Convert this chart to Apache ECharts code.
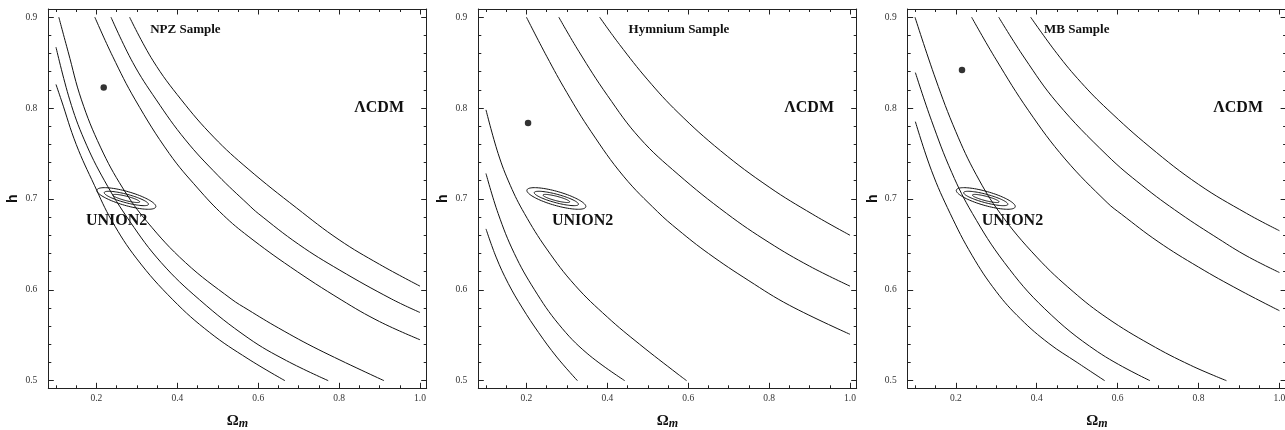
<!DOCTYPE html>
<html><head><meta charset="utf-8">
<script src="https://cdn.jsdelivr.net/npm/echarts@6/dist/echarts.min.js"></script>
<style>html,body{margin:0;padding:0;background:#fff}#c{width:1285px;height:430px}</style>
</head><body><div id="c"></div>
<script>
// ---------- data ----------
const panelTitles = ['NPZ Sample', 'Hymnium Sample', 'MB Sample'];
const xMajorTicks = [0.2, 0.4, 0.6, 0.8, 1.0];
const xMinorTicks = [0.1, 0.15, 0.25, 0.3, 0.35, 0.45, 0.5, 0.55, 0.65, 0.7, 0.75, 0.85, 0.9, 0.95];
const yMajorTicks = [0.5, 0.6, 0.7, 0.8, 0.9];
const yMinorTicks = [0.52, 0.54, 0.56, 0.58, 0.62, 0.64, 0.66, 0.68, 0.72, 0.74, 0.76, 0.78, 0.82, 0.84, 0.86, 0.88];

const npzCurves = [
  [[0.100,0.826],[0.113,0.809],[0.150,0.760],[0.195,0.715],[0.238,0.676],[0.300,0.634],[0.389,0.589],[0.480,0.553],[0.575,0.524],[0.666,0.500]],
  [[0.100,0.867],[0.134,0.809],[0.170,0.765],[0.220,0.720],[0.283,0.675],[0.360,0.630],[0.455,0.589],[0.575,0.547],[0.670,0.522],[0.773,0.500]],
  [[0.107,0.900],[0.130,0.862],[0.163,0.809],[0.210,0.757],[0.265,0.712],[0.325,0.675],[0.420,0.630],[0.533,0.590],[0.575,0.578],[0.650,0.558],[0.750,0.534],[0.911,0.500]],
  [[0.196,0.900],[0.240,0.857],[0.296,0.809],[0.380,0.750],[0.450,0.712],[0.514,0.682],[0.575,0.659],[0.680,0.625],[0.805,0.589],[0.900,0.565],[1.000,0.545]],
  [[0.236,0.900],[0.290,0.850],[0.348,0.809],[0.420,0.765],[0.500,0.726],[0.575,0.694],[0.600,0.684],[0.700,0.650],[0.800,0.622],[0.929,0.590],[1.000,0.575]],
  [[0.282,0.900],[0.340,0.852],[0.410,0.809],[0.490,0.768],[0.575,0.733],[0.695,0.690],[0.800,0.655],[0.900,0.628],[1.000,0.604]]
];
const hymniumCurves = [
  [[0.100,0.667],[0.125,0.636],[0.155,0.607],[0.190,0.580],[0.230,0.553],[0.275,0.526],[0.326,0.500]],
  [[0.100,0.728],[0.130,0.684],[0.170,0.640],[0.220,0.600],[0.280,0.562],[0.350,0.530],[0.443,0.500]],
  [[0.100,0.798],[0.130,0.750],[0.160,0.715],[0.195,0.684],[0.250,0.645],[0.320,0.605],[0.400,0.570],[0.480,0.540],[0.575,0.507],[0.596,0.500]],
  [[0.200,0.900],[0.250,0.857],[0.300,0.817],[0.360,0.774],[0.440,0.725],[0.524,0.686],[0.575,0.666],[0.650,0.640],[0.750,0.610],[0.850,0.583],[1.000,0.551]],
  [[0.280,0.900],[0.330,0.862],[0.400,0.814],[0.480,0.767],[0.575,0.727],[0.695,0.684],[0.800,0.652],[0.900,0.626],[1.000,0.604]],
  [[0.381,0.900],[0.430,0.870],[0.500,0.831],[0.575,0.795],[0.680,0.753],[0.800,0.713],[0.908,0.683],[1.000,0.660]]
];
const mbCurves = [
  [[0.100,0.785],[0.140,0.731],[0.186,0.684],[0.240,0.638],[0.300,0.598],[0.360,0.568],[0.430,0.541],[0.500,0.520],[0.568,0.500]],
  [[0.100,0.839],[0.140,0.786],[0.190,0.729],[0.241,0.684],[0.320,0.630],[0.420,0.579],[0.550,0.532],[0.680,0.500]],
  [[0.099,0.900],[0.150,0.832],[0.200,0.774],[0.250,0.727],[0.310,0.684],[0.400,0.636],[0.490,0.598],[0.574,0.569],[0.680,0.540],[0.780,0.517],[0.869,0.500]],
  [[0.239,0.900],[0.300,0.853],[0.380,0.797],[0.470,0.744],[0.574,0.696],[0.610,0.683],[0.700,0.653],[0.800,0.625],[0.900,0.600],[1.000,0.577]],
  [[0.306,0.900],[0.370,0.855],[0.450,0.806],[0.574,0.748],[0.660,0.715],[0.754,0.684],[0.850,0.656],[0.920,0.637],[1.000,0.619]],
  [[0.385,0.900],[0.450,0.860],[0.510,0.828],[0.574,0.799],[0.680,0.757],[0.800,0.716],[0.919,0.684],[1.000,0.665]]
];
const bestFitPoints = [[0.218, 0.8225], [0.204, 0.7835], [0.2152, 0.8419]];
const union2Center = [0.274, 0.7005];
// [half-width in Ωm, h offset at right end, half-thickness in h]
const union2Ellipses = [[0.0729, -0.0088, 0.0080], [0.0547, -0.0063, 0.0048], [0.0330, -0.0037, 0.0025]];
const titlePos = [[0.420, 0.8868], [0.577, 0.8868], [0.499, 0.8868]];
const lcdmPos = [[0.899, 0.800], [0.899, 0.800], [0.898, 0.800]];
const unionLabelPos = [[0.250, 0.676], [0.339, 0.676], [0.340, 0.676]];
const panelCurves = [npzCurves, hymniumCurves, mbCurves];

// ---------- layout / style ----------
const gridLefts = [48.3, 478.3, 907.7];
const GRID_W = 378.4, GRID_TOP = 9, GRID_H = 379.3;
const X_MIN = 0.081, X_MAX = 1.0165, Y_MIN = 0.4916, Y_MAX = 0.909;
const SERIF = '"Liberation Serif","Times New Roman",Times,serif';
const SANS = '"Liberation Sans",Arial,Helvetica,sans-serif';
const FRAME = '#222';

const grid = gridLefts.map(l => ({left: l, top: GRID_TOP, width: GRID_W, height: GRID_H, containLabel: false, outerBoundsMode: 'none'}));

function xAx(gi, pos, major) {
  const labelled = major && pos === 'bottom';
  return {
    type: 'value', gridIndex: gi, position: pos, min: X_MIN, max: X_MAX,
    axisLine: {show: major, onZero: false, lineStyle: {color: FRAME, width: 1}},
    axisTick: {show: true, inside: true, length: major ? 5.5 : 3, customValues: major ? xMajorTicks : xMinorTicks, lineStyle: {color: FRAME, width: 1}},
    axisLabel: {show: labelled, customValues: xMajorTicks, formatter: v => v.toFixed(1), margin: 5, fontFamily: SERIF, fontSize: 9.5, color: '#333'},
    splitLine: {show: false},
    name: labelled ? '{o|Ω}{m|m}' : '',
    nameLocation: 'middle', nameGap: 24,
    nameTextStyle: {rich: {
      o: {fontFamily: SERIF, fontWeight: 'bold', fontSize: 15, color: '#111', lineHeight: 18, verticalAlign: 'middle'},
      m: {fontFamily: SERIF, fontWeight: 'bold', fontStyle: 'italic', fontSize: 12, color: '#111', lineHeight: 18, verticalAlign: 'bottom'}
    }}
  };
}
function yAx(gi, pos, major) {
  const labelled = major && pos === 'left';
  return {
    type: 'value', gridIndex: gi, position: pos, min: Y_MIN, max: Y_MAX,
    axisLine: {show: major, onZero: false, lineStyle: {color: FRAME, width: 1}},
    axisTick: {show: true, inside: true, length: major ? 5.5 : 3, customValues: major ? yMajorTicks : yMinorTicks, lineStyle: {color: FRAME, width: 1}},
    axisLabel: {show: labelled, customValues: yMajorTicks, formatter: v => v.toFixed(1), margin: 11, fontFamily: SERIF, fontSize: 9.5, color: '#333'},
    splitLine: {show: false},
    name: labelled ? 'h' : '',
    nameLocation: 'middle', nameGap: 28, nameRotate: 90,
    nameTextStyle: {fontFamily: SANS, fontWeight: 'bold', fontSize: 14, color: '#111'}
  };
}

const xAxis = [], yAxis = [], series = [];
for (let i = 0; i < 3; i++) {
  xAxis.push(xAx(i, 'bottom', true), xAx(i, 'bottom', false), xAx(i, 'top', true), xAx(i, 'top', false));
  yAxis.push(yAx(i, 'left', true), yAx(i, 'left', false), yAx(i, 'right', true), yAx(i, 'right', false));
  const ax = {xAxisIndex: 4 * i, yAxisIndex: 4 * i};
  panelCurves[i].forEach(c => series.push(Object.assign({
    type: 'line', data: c, smooth: 0.4, symbol: 'none', silent: true,
    lineStyle: {color: '#111', width: 1}
  }, ax)));
  series.push(Object.assign({
    type: 'scatter', data: [bestFitPoints[i]], symbol: 'circle', symbolSize: 6.5, silent: true,
    itemStyle: {color: '#000'}
  }, ax));
  series.push(Object.assign({
    type: 'custom', silent: true,
    data: union2Ellipses.map(e => [union2Center[0], union2Center[1], e[0], e[1], e[2]]),
    encode: {x: 0, y: 1},
    renderItem: (params, api) => {
      const cx = api.value(0), cy = api.value(1), A = api.value(2), C = api.value(3), B = api.value(4);
      const pts = [];
      for (let k = 0; k < 96; k++) {
        const t = 2 * Math.PI * k / 96;
        pts.push(api.coord([cx + A * Math.cos(t), cy + C * Math.cos(t) + B * Math.sin(t)]));
      }
      return {type: 'polygon', shape: {points: pts}, style: {fill: 'none', stroke: '#111', lineWidth: 1}};
    }
  }, ax));
  const txt = (pos, text, size) => Object.assign({
    type: 'custom', silent: true, data: [pos], encode: {x: 0, y: 1}, z: 5,
    renderItem: (params, api) => {
      const p = api.coord([api.value(0), api.value(1)]);
      return {type: 'text', x: p[0], y: p[1], style: {text: text, fontFamily: SERIF, fontWeight: 'bold', fontSize: size, fill: '#111', align: 'center', verticalAlign: 'middle'}};
    }
  }, ax);
  series.push(txt(titlePos[i], panelTitles[i], 13));
  series.push(txt(lcdmPos[i], 'ΛCDM', 16));
  series.push(txt(unionLabelPos[i], 'UNION2', 16));
}

const chart = echarts.init(document.getElementById('c'));
chart.setOption({animation: false, backgroundColor: '#fff', grid, xAxis, yAxis, series});
</script></body></html>
